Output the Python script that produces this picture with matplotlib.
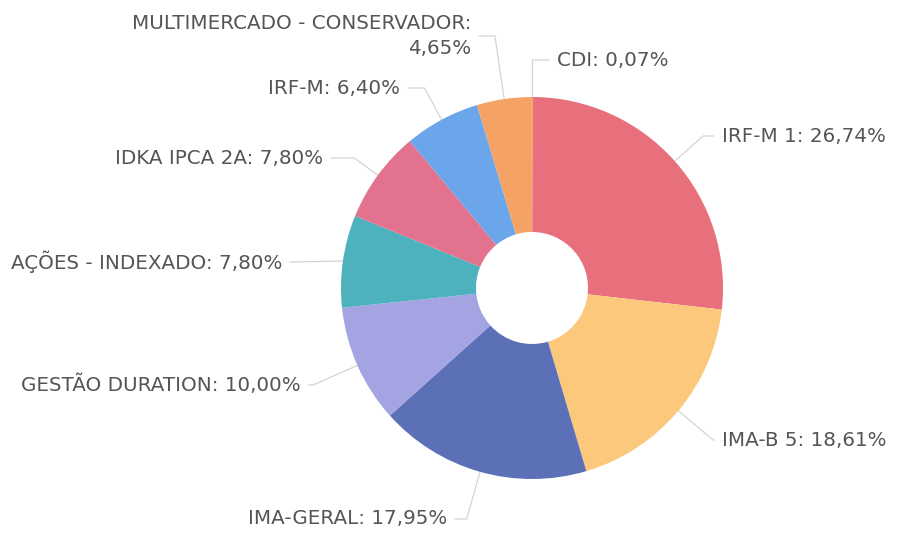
import numpy as np
import matplotlib
matplotlib.use('Agg')
from matplotlib import pyplot as plt

# data (clockwise from 12 o'clock)
labels = ['CDI', 'IRF-M 1', 'IMA-B 5', 'IMA-GERAL', 'GESTÃO DURATION',
          'AÇÕES - INDEXADO', 'IDKA IPCA 2A', 'IRF-M', 'MULTIMERCADO - CONSERVADOR']
values = [0.07, 26.74, 18.61, 17.95, 10.00, 7.80, 7.80, 6.40, 4.65]
colors = ['#f0a868', '#e8707c', '#fcc87c', '#5b70b6', '#a4a4e2',
          '#4db2bd', '#e3728e', '#6ca6ea', '#f4a365']

# layout in pixel units (y up)
W, H = 897, 533
cx, cy = 532, 533 - 288
R, r_in = 191, 56
# label anchor (x, y from top, side)
label_pos = [
    (557, 60, 1),
    (722, 136, 1),
    (722, 440, 1),
    (447, 519, -1),
    (301, 385, -1),
    (282, 262, -1),
    (323, 158, -1),
    (400, 88, -1),
    (471, 36, -1),
]

fig = plt.figure(figsize=(W / 100, H / 100), dpi=100)
ax = fig.add_axes([0, 0, 1, 1])
ax.set_xlim(0, W)
ax.set_ylim(0, H)
ax.axis('off')

wedges, _ = ax.pie(values, colors=colors, startangle=90, counterclock=False,
                   center=(cx, cy), radius=R, frame=True,
                   wedgeprops=dict(width=R - r_in, linewidth=0))
ax.set_xlim(0, W)
ax.set_ylim(0, H)
ax.axis('off')

def fmt(v):
    return ('%.2f' % v).replace('.', ',') + '%'

for w, lab, v, (lx, ly, side) in zip(wedges, labels, values, label_pos):
    ang = np.deg2rad(0.5 * (w.theta1 + w.theta2))
    ly = H - ly
    dx, dy = np.cos(ang), np.sin(ang)
    p0 = (cx + R * dx, cy + R * dy)
    # where the ray hits the label's height
    if abs(dy) > 1e-6:
        dist = (ly - cy) / dy
    else:
        dist = R
    if dist > R + 4:
        elbow = (cx + dist * dx, ly)
    else:
        elbow = p0
    end = (lx - 8 * side, ly)
    xs = [p0[0], elbow[0], end[0]]
    ys = [p0[1], elbow[1], end[1]]
    ax.plot(xs, ys, color='#d4d4d4', lw=0.9, zorder=0)
    if lab.startswith('MULTIMERCADO'):
        txt = lab + ':\n' + fmt(v)
    else:
        txt = lab + ': ' + fmt(v)
    ax.text(lx, ly, txt, ha='left' if side > 0 else 'right', va='center',
            multialignment='right', fontsize=14.3, color='#555555',
            family='DejaVu Sans', linespacing=1.35)

fig.savefig('out.png', dpi=100, facecolor='white')
